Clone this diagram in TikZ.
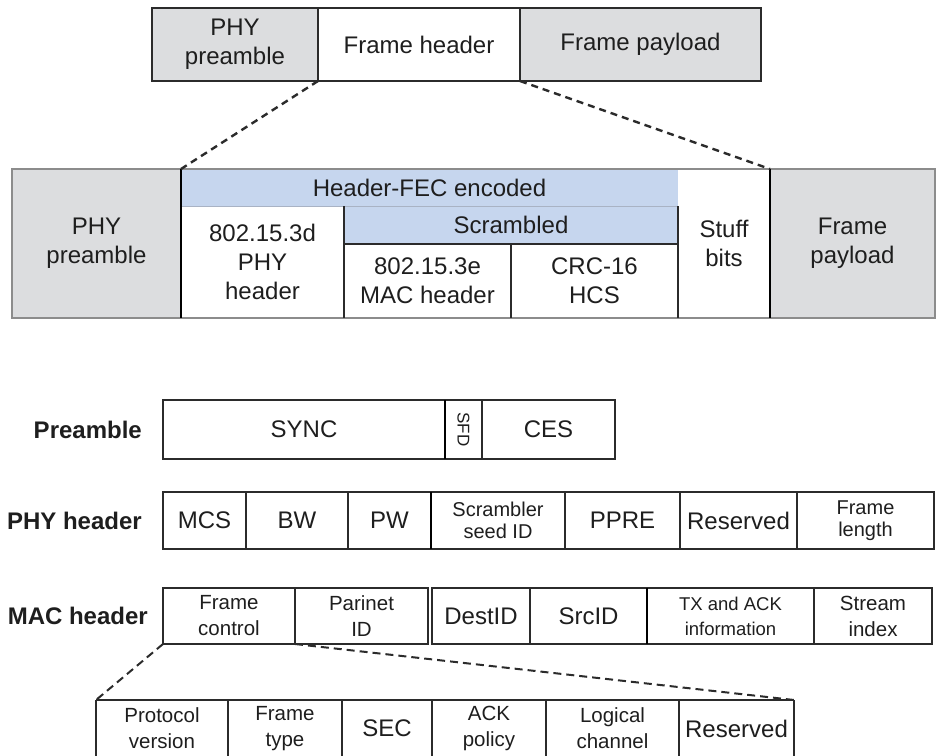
\documentclass[tikz,border=0pt]{standalone}
\usepackage{fontspec}
\setmainfont{Liberation Sans}
\definecolor{boxgray}{HTML}{DCDDDF}
\definecolor{boxblue}{HTML}{C6D6EE}
\definecolor{linec}{HTML}{2B2B2B}
\definecolor{outerc}{HTML}{8C8C8C}
\definecolor{sepc}{HTML}{A9B3C4}
\definecolor{txt}{HTML}{1E1E1E}
\newcommand\fbig{\fontsize{24}{29}\selectfont}
\newcommand\fmid{\fontsize{20.5}{26}\selectfont}
\newcommand\fmidt{\fontsize{20}{22.5}\selectfont}
\newcommand\fsml{\fontsize{18.5}{25}\selectfont}
\newcommand\fsfd{\fontsize{17}{20}\selectfont}
\newcommand\cellbox[7]{\node[#6, minimum width={(#4)-(#2)}, minimum height={(#5)-(#3)}, anchor=north west] (#1) at (#2,#3) {#7};}
\tikzset{
  cell/.style={inner sep=0pt, outer sep=0pt, align=center, text=txt, font=\fbig},
  bcell/.style={cell, draw=linec, line width=1.2pt},
  tcell/.style={cell, draw=linec, line width=1.5pt},
  lbl/.style={inner sep=0pt, text=txt, font=\fbig\bfseries, anchor=east},
  thickl/.style={draw=black, line width=2.6pt},
  innerl/.style={draw=linec, line width=1.3pt},
  dashl/.style={draw=linec, line width=2.4pt, dash pattern=on 7pt off 5pt},
}
\begin{document}
\begin{tikzpicture}[x=1pt,y=-1pt]
\useasboundingbox (0,0) rectangle (945,755);
% ---------- top bar ----------
\cellbox{tpre}{152}{8}{318}{81}{tcell,fill=boxgray}{PHY\\preamble}
\cellbox{thdr}{318}{8}{520}{81}{tcell}{Frame header}
\cellbox{tpay}{520}{8}{761}{81}{tcell,fill=boxgray}{Frame payload}
% ---------- expanded frame ----------
\cellbox{lpre}{12}{169}{181}{318}{cell,fill=boxgray}{PHY\\preamble}
\cellbox{fec}{181}{169}{678}{206}{cell,fill=boxblue}{Header-FEC encoded}
\cellbox{phyh}{181}{206}{344}{318}{cell}{802.15.3d\\PHY\\header}
\cellbox{scr}{344}{206}{678}{244}{cell,fill=boxblue}{Scrambled}
\cellbox{mach}{344}{244}{511}{318}{cell}{802.15.3e\\MAC header}
\cellbox{crc}{511}{244}{678}{318}{cell}{CRC-16\\HCS}
\cellbox{stuff}{678}{169}{770}{318}{cell}{Stuff\\bits}
\cellbox{lpay}{770}{169}{935}{318}{cell,fill=boxgray}{Frame\\payload}
\draw[draw=outerc, line width=1.4pt] (lpre.north west) rectangle (lpay.south east);
\draw[draw=sepc, line width=1pt] (fec.south west) -- (scr.north east);
\draw[innerl] (phyh.north east) -- (phyh.south east);
\draw[innerl] (scr.south west) -- (scr.south east);
\draw[innerl] (mach.north east) -- (mach.south east);
\draw[draw=linec, line width=2pt] (scr.north east) -- (crc.south east);
\draw[thickl] (lpre.north east) -- (lpre.south east);
\draw[thickl] (stuff.north east) -- (stuff.south east);
\draw[dashl] (thdr.south west) -- (fec.north west);
\draw[dashl] (thdr.south east) -- (lpay.north west);
% ---------- Preamble ----------
\node[lbl] (lblpre) at (142,430) {Preamble};
\cellbox{sync}{163}{400}{445}{459}{bcell}{SYNC}
\cellbox{sfd}{445}{400}{482}{459}{bcell}{}
\node[cell, font=\fsfd, rotate=-90] (sfdt) at (sfd.center) {SFD};
\cellbox{ces}{482}{400}{615}{459}{bcell}{CES}
\draw[thickl] (sync.north east) -- (sync.south east);
% ---------- PHY header ----------
\node[lbl] (lblphy) at (142,521) {PHY header};
\cellbox{mcs}{163}{492}{246}{549}{bcell}{MCS}
\cellbox{bw}{246}{492}{348}{549}{bcell}{BW}
\cellbox{pw}{348}{492}{431}{549}{bcell}{PW}
\cellbox{sseed}{431}{492}{565}{549}{bcell,font=\fmidt}{Scrambler\\seed ID}
\cellbox{ppre}{565}{492}{680}{549}{bcell}{PPRE}
\cellbox{pres}{680}{492}{797}{549}{bcell}{Reserved}
\cellbox{flen}{797}{492}{934}{549}{bcell,font=\fmidt}{Frame\\length}
\draw[thickl] (pw.north east) -- (pw.south east);
% ---------- MAC header ----------
\node[lbl] (lblmac) at (148,616) {MAC header};
\cellbox{fc}{163}{588}{295}{644}{bcell,font=\fmid}{Frame\\control}
\cellbox{pid}{295}{588}{428}{644}{bcell,font=\fmid}{Parinet\\ID}
\cellbox{dest}{432}{588}{530}{644}{bcell}{DestID}
\cellbox{src}{530}{588}{647}{644}{bcell}{SrcID}
\cellbox{txa}{647}{588}{814}{644}{bcell,font=\fsml}{TX and ACK\\information}
\cellbox{sidx}{814}{588}{932}{644}{bcell,font=\fmid}{Stream\\index}
\draw[thickl] (src.north east) -- (src.south east);
% ---------- Frame control breakdown ----------
\cellbox{pv}{96}{700}{228}{757}{cell,font=\fmid}{Protocol\\version}
\cellbox{ft}{228}{700}{342}{757}{cell,font=\fmid}{Frame\\type}
\cellbox{sec}{342}{700}{432}{757}{cell}{SEC}
\cellbox{ackp}{432}{700}{546}{757}{cell,font=\fmid}{ACK\\policy}
\cellbox{lc}{546}{700}{679}{757}{cell,font=\fmid}{Logical\\channel}
\cellbox{bres}{679}{700}{794}{757}{cell}{Reserved}
\draw[innerl] (pv.north west) -- (bres.north east);
\foreach \c in {pv,ft,sec,ackp,lc,bres} {
  \draw[innerl] (\c.north west) -- (\c.south west);
}
\draw[innerl] (bres.north east) -- (bres.south east);
\draw[dashl, line width=2pt, dash pattern=on 8pt off 5pt] (fc.south west) -- (pv.north west);
\draw[dashl, line width=2pt, dash pattern=on 8pt off 5pt] (pid.south west) -- (bres.north east);
\end{tikzpicture}
\end{document}
